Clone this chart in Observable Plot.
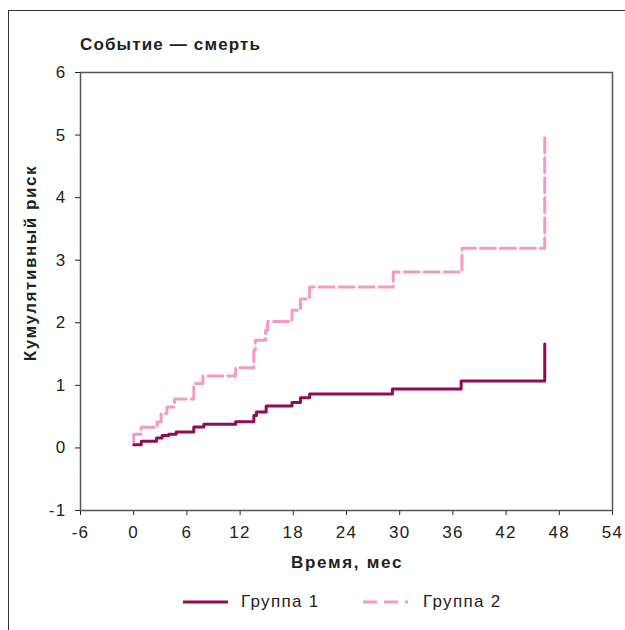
<!DOCTYPE html>
<html>
<head>
<meta charset="utf-8">
<script src="https://cdn.jsdelivr.net/npm/d3@7"></script>
<script src="https://cdn.jsdelivr.net/npm/@observablehq/plot@0.6"></script>
<style>
  html, body { margin: 0; padding: 0; background: #fff; }
  #wrap { position: relative; width: 625px; height: 630px; overflow: hidden; font-family: "Liberation Sans", Arial, sans-serif; color: #222; letter-spacing: 1.3px; }
  #border { position: absolute; left: 8px; top: 10px; width: 640px; height: 640px; border-top: 1.5px solid #333; border-left: 1.5px solid #333; box-sizing: border-box; }
  #chart { position: absolute; left: 0; top: 0; }
  .title { position: absolute; left: 80px; top: 35px; font-weight: bold; font-size: 17px; white-space: nowrap; letter-spacing: 1.15px; }
  .xlabel { position: absolute; left: 347px; top: 553px; transform: translateX(-50%); font-weight: bold; font-size: 17px; white-space: nowrap; letter-spacing: 1.7px; }
  .ylabel { position: absolute; left: 31px; top: 263px; transform: translate(-50%, -50%) rotate(-90deg); font-weight: bold; font-size: 17px; white-space: nowrap; letter-spacing: 1.55px; }
  .legend { position: absolute; top: 592px; left: 0; width: 625px; height: 22px; }
  .legend .item { position: absolute; top: 0; font-size: 17px; white-space: nowrap; }
</style>
</head>
<body>
<div id="wrap">
  <div id="border"></div>
  <div id="chart"></div>
  <div class="title">Событие — смерть</div>
  <div class="xlabel">Время, мес</div>
  <div class="ylabel">Кумулятивный риск</div>
  <div class="legend" id="legend"></div>
</div>
<script>
// Data (months, cumulative risk)
const group1Time = [0.0, 0.85, 2.57, 3.21, 3.96, 4.79, 6.78, 7.91, 11.49, 13.55, 13.84, 14.94, 17.85, 18.81, 19.84, 29.18, 36.93, 46.36];
const group1Risk = [0.05, 0.105, 0.16, 0.2, 0.22, 0.255, 0.335, 0.38, 0.42, 0.52, 0.575, 0.67, 0.725, 0.8, 0.86, 0.94, 1.07, 1.66];
const group2Time = [0.0, 0.0, 0.85, 2.65, 3.09, 3.74, 4.6, 6.78, 7.81, 11.49, 13.55, 13.72, 14.87, 15.11, 17.85, 18.81, 19.84, 29.27, 37.02, 46.36];
const group2Risk = [0.1, 0.22, 0.33, 0.415, 0.55, 0.656, 0.78, 1.03, 1.15, 1.28, 1.56, 1.72, 1.88, 2.02, 2.2, 2.38, 2.57, 2.81, 3.19, 5.02];
const seriesNames = ["Группа 1", "Группа 2"];
const seriesColors = ["#8e0d55", "#f49ac4"];
const xTicks = [-6, 0, 6, 12, 18, 24, 30, 36, 42, 48, 54];
const yTicks = [-1, 0, 1, 2, 3, 4, 5, 6];

const g1 = group1Time.map((t, i) => ({t, r: group1Risk[i]}));
const g2 = group2Time.map((t, i) => ({t, r: group2Risk[i]}));

const chart = Plot.plot({
  width: 625,
  height: 550,
  marginLeft: 80,
  marginRight: 13,
  marginTop: 72,
  marginBottom: 40,
  style: {fontFamily: "'Liberation Sans', Arial, sans-serif", fontSize: "17px", letterSpacing: "1.3px", color: "#222", background: "transparent", overflow: "visible"},
  x: {domain: [-6, 54], ticks: xTicks, tickSize: 5, tickPadding: 10, label: null, tickFormat: d => String(d)},
  y: {domain: [-1, 6], ticks: yTicks, tickSize: 5, tickPadding: 9, label: null, tickFormat: d => String(d)},
  marks: [
    Plot.frame({stroke: "#555", strokeWidth: 1.5}),
    Plot.line(g2, {x: "t", y: "r", curve: "step-after", stroke: seriesColors[1], strokeWidth: 3, strokeDasharray: "15,5"}),
    Plot.line(g1, {x: "t", y: "r", curve: "step-after", stroke: seriesColors[0], strokeWidth: 3})
  ]
});
chart.querySelectorAll("g[aria-label='x-axis'] path, g[aria-label='y-axis'] path, g[aria-label='x-axis'] line, g[aria-label='y-axis'] line").forEach(e => { e.setAttribute("stroke", "#555"); e.setAttribute("stroke-width", "1.5"); });
document.getElementById("chart").appendChild(chart);

// Legend
const leg = document.getElementById("legend");
const legendPos = [{lx: 183, tx: 241, dash: null}, {lx: 363, tx: 423, dash: "14,7"}];
seriesNames.forEach((name, i) => {
  const svgNS = "http://www.w3.org/2000/svg";
  const s = document.createElementNS(svgNS, "svg");
  s.setAttribute("width", 46); s.setAttribute("height", 22);
  s.style.position = "absolute"; s.style.left = legendPos[i].lx + "px"; s.style.top = "0px";
  const l = document.createElementNS(svgNS, "line");
  l.setAttribute("x1", 0); l.setAttribute("x2", 45); l.setAttribute("y1", 10); l.setAttribute("y2", 10);
  l.setAttribute("stroke", seriesColors[i]); l.setAttribute("stroke-width", 3);
  if (legendPos[i].dash) l.setAttribute("stroke-dasharray", legendPos[i].dash);
  s.appendChild(l);
  leg.appendChild(s);
  const t = document.createElement("div");
  t.className = "item"; t.style.left = legendPos[i].tx + "px"; t.textContent = name;
  leg.appendChild(t);
});
</script>
</body>
</html>
